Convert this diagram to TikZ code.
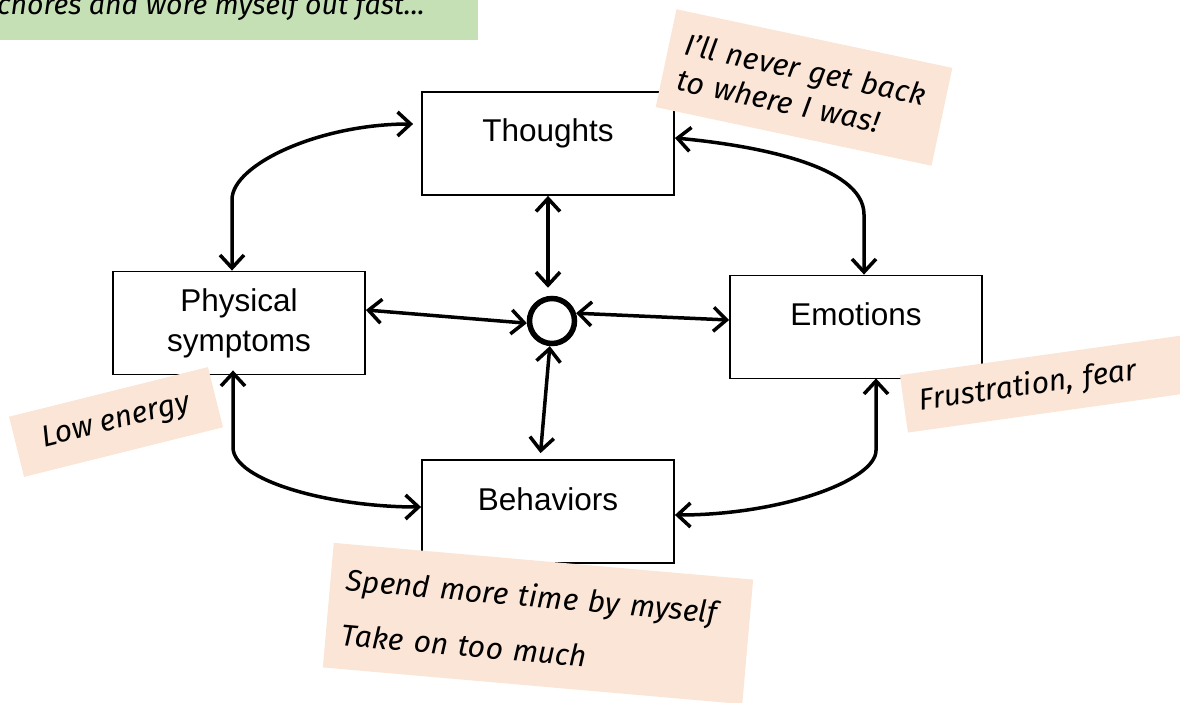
\documentclass[tikz,border=0pt]{standalone}
\usepackage{fontspec}
\setmainfont{Liberation Sans}
\newfontfamily\handfont{Fira Sans}
\usetikzlibrary{arrows.meta}

\begin{document}
\begin{tikzpicture}[x=1pt,y=1pt,>={Straight Barb[length=13pt,width=24pt]},
    box/.style={draw,line width=1.8pt,minimum width=252pt,minimum height=103pt,
      inner sep=0pt,align=center,font=\fontsize{31.5}{40}\selectfont},
    oneline/.style={text height=23pt,text depth=26pt},
    hub/.style={circle,draw,line width=5.5pt,minimum size=45pt,inner sep=0pt},
    link/.style={<->,line width=3.5pt,line cap=round,line join=round},
    note/.style={fill=peach,inner xsep=16pt,inner ysep=0pt,align=left,
      font=\handfont\itshape\fontsize{30}{36}\selectfont}]
  \definecolor{peach}{HTML}{FBE5D6}
  \definecolor{sage}{HTML}{C5E0B4}
  \path[use as bounding box] (0,0) rectangle (1180,-703);
  \clip (0,0) rectangle (1180,-703);
  \fill[sage] (-5,5) rectangle (478,-40);
  \node[anchor=base west,inner sep=0pt,font=\handfont\itshape\fontsize{28.5}{34}\selectfont]
    (story) at (-3,-15) {chores and wore myself out fast...};

  \node[box,oneline] (th) at (548,-143.5) {Thoughts};
  \node[box] (ps) at (239,-323) {Physical\\symptoms};
  \node[box,oneline] (em) at (856,-327) {Emotions};
  \node[box,oneline] (beh) at (548,-511.5) {Behaviors};
  \node[hub] (hub) at (552,-321) {};

  \draw[link,shorten >=8pt] (th.south) -- (th.south |- hub.north);
  \draw[link,shorten >=6pt] (hub.265) -- ([xshift=-8pt]beh.north);
  \draw[link] ([yshift=13pt]ps.east) -- (hub.185);
  \draw[link] (hub.18) -- ([yshift=7pt]em.west);

  \draw[link,shorten <=8pt] ([yshift=19.5pt]th.west) .. controls +(-102,0) and +(0,35) ..
    ([xshift=-7pt,yshift=71pt]ps.north) -- ([xshift=-7pt]ps.north);
  \draw[link] ([yshift=5.5pt]th.east) .. controls +(76,-7) and +(0,50) ..
    ([xshift=8pt,yshift=60pt]em.north) -- ([xshift=8pt]em.north);
  \draw[link,shorten <=-5pt] ([xshift=-6pt]ps.south) -- ([xshift=-6pt,yshift=-72pt]ps.south)
    .. controls +(0,-33) and +(-92,0) .. ([yshift=4.5pt]beh.west);
  \draw[link,shorten <=-1pt] ([xshift=20pt]em.south) -- ([xshift=20pt,yshift=-71pt]em.south)
    .. controls +(0,-30) and +(106,0) .. ([yshift=-3.5pt]beh.east);

  \node[note,rotate=-12,minimum width=282pt,minimum height=100pt,text width=250pt]
    (worry) at (804,-87.5) {I’ll never get back\\to where I was!};
  \node[note,rotate=-5,minimum width=421pt,minimum height=125pt,text width=389pt]
    (acts) at (538,-623.5) {Spend more time by myself\\[19pt]Take on too much};
  \node[note,rotate=14,minimum width=205pt,minimum height=62pt,align=center]
    (body) at (116,-422) {Low energy};
  \node[note,rotate=8,minimum width=285pt,minimum height=58pt,text width=253pt]
    (feel) at (1045,-384) {Frustration, fear};
\end{tikzpicture}
\end{document}
